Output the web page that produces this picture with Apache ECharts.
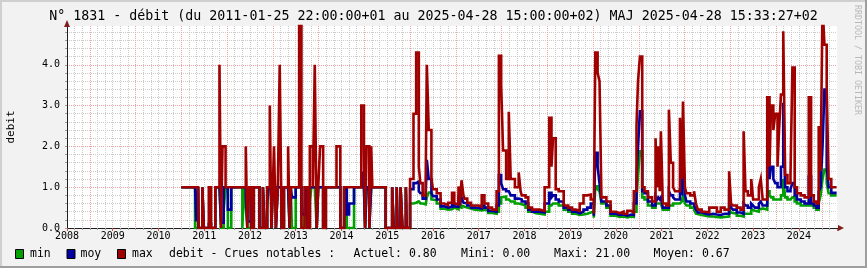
<!DOCTYPE html>
<html><head><meta charset="utf-8">
<script src="https://cdn.jsdelivr.net/npm/echarts@6/dist/echarts.min.js"></script>
<style>html,body{margin:0;padding:0;background:#f2f2f2}#c{width:867px;height:268px}</style>
</head><body><div id="c"></div>
<script>
// ---- data (time in months since 2008-01-01) ----
const titleText = 'N° 1831 - débit (du 2011-01-25 22:00:00+01 au 2025-04-28 15:00:00+02) MAJ 2025-04-28 15:33:27+02';
const yAxisName = 'debit';
const watermark = 'RRDTOOL / TOBI OETIKER';
const seriesNames = ['min', 'moy', 'max'];
const statsLabel = 'debit - Crues notables :';
const statsItems = ['Actuel: 0.80', 'Mini: 0.00', 'Maxi: 21.00', 'Moyen: 0.67'];
const firstYear = 2008;

const times = [36,39.6,39.9,40.4,40.5,41.5,41.9,43.2,43.8,44.9,
 46,46.4,46.8,47.1,47.6,48.2,49.1,52,52.4,52.9,
 53.3,53.8,54.2,54.4,55,56.5,57.4,57.8,58.5,58.9,
 59.2,59.6,60,60.3,60.8,61.3,61.8,62.3,62.9,64,
 64.4,64.7,65,66,66.9,67.5,68.3,68.7,69.1,69.7,
 70.1,70.5,71,71.5,71.9,72.4,73.2,73.9,76.7,77.7,
 78.7,79.4,80,81.3,83.2,83.9,84.2,84.6,85.3,85.8,
 86.1,89.6,91.3,91.7,92.5,92.7,93.5,94,94.9,95.1,
 96,96.9,97.6,98.3,98.7,99.3,100.1,100.4,100.9,101.6,
 102,103,104,105,106,107,107.6,108,108.7,109.2,
 109.5,110,110.3,111,112,113,114,114.8,115.5,116,
 116.5,117.5,118.7,119.3,119.9,120.4,121.2,121.9,122.4,123.5,
 124.5,125,125.3,126.3,127,128,129,130,131.3,132.5,
 133.1,133.5,134.2,135,136.3,137.5,138.5,139.5,140.5,141.5,
 142.5,143.4,144.2,144.6,145.2,145.7,146.2,147.5,148.6,150,
 151,152,153,154,154.7,155.4,155.8,156.3,156.9,157.5,
 158.4,159.5,160.4,160.8,161.1,161.5,161.8,162.3,163.2,163.9,
 164.4,165,165.5,166.8,167.3,167.6,168.1,168.5,169.5,170.5,
 171,171.5,172.5,173.5,174.5,175.5,176.5,177.5,178.5,179.7,
 180.2,180.7,181.7,182.7,183.5,184,184.6,185.5,186,186.5,
 187.5,188,188.5,189.7,190.3,190.7,191.3,191.8,192.4,192.8,
 193.3,193.9,194.4,195,195.8,196.3,196.9,197.5,198.5,199.5,
 200.6,201.2,201.9,202.6,203.2,203.7,204.2,204.7,205.3,205.8,
 206.5,207.9];

const maxV = [1,1,1,1,0,1,0,1,0,1,
 4,0,2,2,1,1,1,1,1,2,
 0,1,1,0,1,0,1,0,1,1,
 3,0,1,2,0,1,4,0,1,2,
 0,1,1,1,5.5,0,1,1,0,2,
 2,1,4,0,1,2,0,1,2,0,
 1,1,1,1,3,2,0,2,0,2,
 1,0,1,0,1,0,1,0,1,0,
 1.2,2.8,4.3,1.5,1.1,0.8,1.2,4.0,2.4,1.2,
 0.95,0.85,0.6,0.56,0.62,0.86,0.6,0.58,1.02,0.75,
 1.17,0.8,0.72,0.62,0.55,0.55,0.52,0.8,0.6,0.6,
 0.5,0.45,0.9,4.22,3.5,1.9,1.2,2.85,1.2,1.0,
 1.36,0.9,0.8,0.75,0.5,0.45,0.45,0.42,1.0,2.7,
 1.5,2.2,0.95,0.9,0.55,0.5,0.45,0.42,0.6,0.8,
 0.82,0.7,0.35,4.3,3.8,3.6,0.75,0.65,0.4,0.36,
 0.4,0.35,0.42,0.38,0.9,2.5,3.6,4.2,1.0,0.9,
 0.75,0.65,2.2,1.0,2.0,0.9,2.37,0.6,0.55,2.9,
 1.6,1.0,0.9,2.7,1.2,3.1,1.0,0.85,0.8,0.9,
 0.6,0.45,0.4,0.38,0.5,0.5,0.4,0.5,0.45,1.39,
 0.6,0.55,0.5,0.45,2.37,0.9,0.8,1.2,0.7,0.7,
 1.0,1.2,0.7,3.2,1.5,3.0,2.4,2.8,1.5,2.4,
 3.27,4.82,1.3,1.1,1.3,3.93,1.0,0.85,0.8,0.75,
 3.2,0.8,0.65,0.6,2.5,1.4,5.5,4.49,3.4,1.2,
 1.0,1.0];

const moyV = [1,1,0.16,1,0,1,0,0.1,0,1,
 1,0.13,0.13,1,1,0.45,1,1,1,0.77,
 0.16,0.16,1,0,1,0,1,0,0.65,1,
 1,0,1,1,0,1,1,0,1,1,
 0,1,0.75,1,1,0.33,0.3,1,0,1,
 1,1,1,0,1,1,0,1,1,0,
 1,0.33,0.6,1,1.35,1,0,1,0,1,
 1,0,1,0,1,0,1,0,1,0,
 0.95,1.1,1.14,0.9,0.85,0.72,0.8,1.67,1.2,0.85,
 0.78,0.7,0.53,0.5,0.52,0.6,0.53,0.52,0.7,0.62,
 0.75,0.62,0.6,0.55,0.5,0.49,0.48,0.55,0.5,0.5,
 0.42,0.4,0.55,1.3,1.1,0.95,0.9,0.9,0.8,0.72,
 0.75,0.7,0.65,0.6,0.45,0.4,0.4,0.38,0.6,0.86,
 0.75,0.8,0.7,0.65,0.5,0.45,0.4,0.36,0.4,0.45,
 0.5,0.6,0.3,1.84,1.5,1.1,0.65,0.55,0.35,0.32,
 0.33,0.3,0.33,0.32,0.6,1.2,2.0,2.86,0.9,0.85,
 0.65,0.55,0.77,0.7,0.75,0.7,0.75,0.5,0.5,0.9,
 0.8,0.75,0.7,0.9,0.85,1.8,0.8,0.65,0.6,0.55,
 0.45,0.38,0.35,0.33,0.35,0.33,0.32,0.35,0.35,0.7,
 0.5,0.45,0.38,0.35,0.6,0.55,0.5,0.6,0.55,0.5,
 0.6,0.65,0.55,1.75,1.2,1.5,1.2,1.1,1.0,1.0,
 1.5,3.07,1.0,0.9,0.95,1.1,0.8,0.7,0.65,0.6,
 1.26,0.6,0.55,0.5,0.9,1.0,2.0,3.39,1.5,1.0,
 0.86,0.86];

const minV = [1,0,0,1,0,1,0,0,0,1,
 1,0,0,0.45,1,0,1,0,1,0.5,
 0,0,1,0,1,0,1,0,0.45,1,
 1,0,1,1,0,1,1,0,1,1,
 0,1,0,1,1,0,0,1,0,0.65,
 1,1,1,0,1,1,0,1,1,0,
 1,0,0,1,1,1,0,1,0,1,
 1,0,1,0,1,0,1,0,1,0,
 0.6,0.62,0.65,0.62,0.6,0.58,0.6,0.75,0.87,0.7,
 0.68,0.6,0.47,0.45,0.46,0.5,0.47,0.46,0.52,0.5,
 0.55,0.52,0.5,0.48,0.45,0.44,0.43,0.45,0.44,0.43,
 0.37,0.35,0.4,0.6,0.75,0.77,0.7,0.7,0.65,0.6,
 0.6,0.58,0.55,0.5,0.4,0.36,0.35,0.33,0.4,0.55,
 0.58,0.6,0.6,0.55,0.45,0.4,0.35,0.32,0.33,0.35,
 0.38,0.4,0.25,1.02,0.95,0.9,0.6,0.5,0.3,0.27,
 0.28,0.26,0.28,0.27,0.4,0.7,1.3,1.88,0.75,0.7,
 0.55,0.5,0.6,0.6,0.6,0.6,0.6,0.45,0.45,0.55,
 0.55,0.6,0.6,0.6,0.65,0.8,0.6,0.55,0.5,0.45,
 0.35,0.32,0.3,0.28,0.28,0.27,0.26,0.27,0.28,0.45,
 0.38,0.35,0.3,0.28,0.35,0.35,0.35,0.45,0.42,0.4,
 0.45,0.48,0.45,0.9,0.8,0.75,0.7,0.7,0.7,0.7,
 0.8,1.2,0.75,0.7,0.7,0.75,0.65,0.6,0.55,0.55,
 0.65,0.55,0.5,0.45,0.6,0.8,1.2,1.43,1.1,0.85,
 0.8,0.8];

// ---- styling ----
const mono = '"DejaVu Sans Mono", monospace';
const colors = ['#00a000', '#0000a0', '#a00000'];
const G = {left: 67, right: 30, top: 26, bottom: 40};
const X0 = 6, X1 = 208;      // Jul 2008 .. May 2025
const gridMinor = '#cccccc', gridMajor = '#eea3a3';

const chart = echarts.init(document.getElementById('c'), null, {renderer: 'canvas', width: 867, height: 268});

const valueSets = [minV, moyV, maxV];
const series = seriesNames.map((n, k) => ({
  name: n, type: 'line', step: 'end', showSymbol: false, symbol: 'none',
  xAxisIndex: 0, yAxisIndex: 0, clip: true,
  lineStyle: {color: colors[k], width: 2.6, join: 'miter', cap: 'butt'},
  data: times.map((t, i) => [t, valueSets[k][i]]),
  z: 3 + k
}));

const W = 867, H = 268;
const axisX = G.left, axisY = H - G.bottom;

const graphics = [
  {type: 'rect', shape: {x: 0, y: 0, width: W, height: 2}, style: {fill: '#cfcfcf'}, silent: true},
  {type: 'rect', shape: {x: 0, y: 0, width: 2, height: H}, style: {fill: '#cfcfcf'}, silent: true},
  {type: 'rect', shape: {x: 0, y: H - 2, width: W, height: 2}, style: {fill: '#9e9e9e'}, silent: true},
  {type: 'rect', shape: {x: W - 2, y: 0, width: 2, height: H}, style: {fill: '#9e9e9e'}, silent: true},
  {type: 'text', x: W / 2, y: 17, style: {text: titleText, font: '13.3px ' + mono, fill: '#000', align: 'center', verticalAlign: 'middle'}, silent: true},
  {type: 'text', x: 11, y: 127, rotation: Math.PI / 2, style: {text: yAxisName, font: '11px ' + mono, fill: '#000', align: 'center', verticalAlign: 'middle'}, silent: true},
  {type: 'text', x: 857, y: 60, rotation: -Math.PI / 2, style: {text: watermark, font: '8.3px ' + mono, fill: '#b8b8b8', align: 'center', verticalAlign: 'middle'}, silent: true},
  {type: 'polygon', shape: {points: [[axisX, 20], [axisX - 3, 27], [axisX + 3, 27]]}, style: {fill: '#801f1f'}, silent: true, z: 50},
  {type: 'polygon', shape: {points: [[844, axisY], [838, axisY - 3], [838, axisY + 3]]}, style: {fill: '#801f1f'}, silent: true, z: 50},
  {type: 'rect', shape: {x: W - G.right, y: axisY, width: 838 - (W - G.right), height: 1}, style: {fill: '#1f1f1f'}, silent: true, z: 50}
];
const legendX = [15, 66.5, 117];
const legendTextX = [30, 80.5, 132];
const legendY = 254;
seriesNames.forEach((n, k) => {
  graphics.push({type: 'rect', shape: {x: legendX[k] + 0.5, y: legendY - 4.5, width: 8, height: 9}, style: {fill: colors[k], stroke: '#000', lineWidth: 1}, silent: true});
  graphics.push({type: 'text', x: legendTextX[k], y: legendY, style: {text: n, font: '11.5px ' + mono, fill: '#000', verticalAlign: 'middle'}, silent: true});
});
const statsX = [169, 353.5, 461, 554, 653.5];
[statsLabel].concat(statsItems).forEach((s, i) => {
  graphics.push({type: 'text', x: statsX[i], y: legendY, style: {text: s, font: '11.5px ' + mono, fill: '#000', verticalAlign: 'middle'}, silent: true});
});

const xSplitColors = [gridMinor, gridMinor, gridMinor, gridMajor, gridMinor, gridMinor];
const ySplitColors = [gridMajor, gridMinor, gridMinor, gridMinor, gridMinor];

chart.setOption({
  backgroundColor: '#f2f2f2',
  animation: false,
  grid: {left: G.left, right: G.right, top: G.top, bottom: G.bottom, show: true, backgroundColor: '#ffffff', borderWidth: 0, containLabel: false},
  xAxis: [
    {type: 'value', min: X0, max: X1, interval: 2,
     axisLabel: {show: false},
     axisTick: {show: true, length: 2, lineStyle: {color: '#a0a0a0'}},
     axisLine: {show: true, onZero: false, lineStyle: {color: '#1f1f1f', width: 1}},
     splitLine: {show: true, showMinLine: true, showMaxLine: false, lineStyle: {color: xSplitColors, type: [1, 1], width: 1}}},
    {type: 'value', min: 0, max: X1 - X0, interval: 12, position: 'bottom',
     axisLine: {show: false}, axisTick: {show: false}, splitLine: {show: false},
     axisLabel: {show: true, showMaxLabel: false, margin: 3, color: '#000', fontFamily: mono, fontSize: 10,
       formatter: v => String(firstYear + Math.round(v / 12))}},
    {type: 'value', min: X0, max: X1, interval: 12, position: 'bottom',
     axisLine: {show: false}, splitLine: {show: false}, axisLabel: {show: false},
     axisTick: {show: true, length: 3, lineStyle: {color: '#d05050'}}}
  ],
  yAxis: {type: 'value', min: 0, max: 4.95, interval: 0.2,
    axisLine: {show: true, onZero: false, lineStyle: {color: '#1f1f1f', width: 1}},
    axisTick: {show: true, length: 2, lineStyle: {color: '#a0a0a0'}},
    axisLabel: {show: true, showMaxLabel: false, margin: 7, color: '#000', fontFamily: mono, fontSize: 10,
      formatter: v => (Math.abs(v - Math.round(v)) < 1e-6 ? v.toFixed(1) : '')},
    splitLine: {show: true, showMinLine: true, showMaxLine: false, lineStyle: {color: ySplitColors, type: [1, 1], width: 1}}},
  series: series,
  graphic: graphics
});
</script></body></html>
